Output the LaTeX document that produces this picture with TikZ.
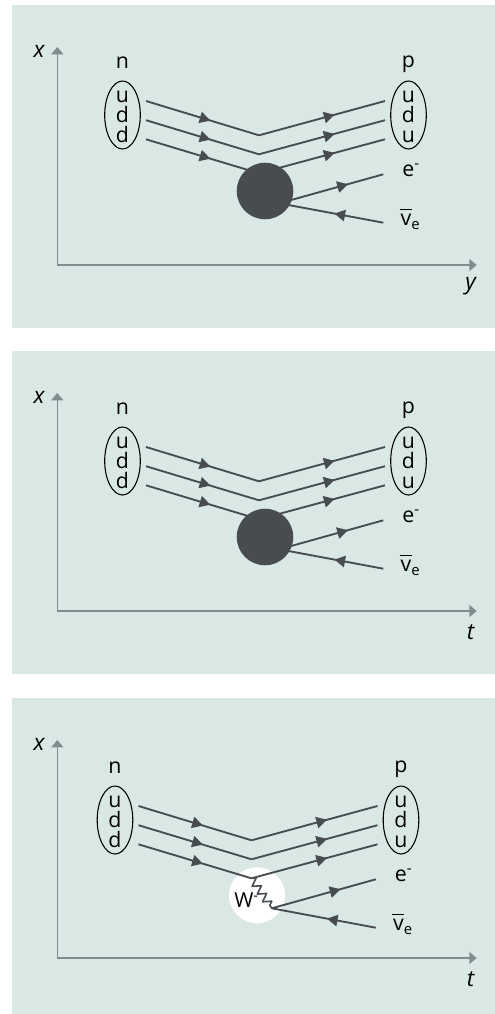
\documentclass[tikz,border=0pt]{standalone}
\usepackage{fontspec}
\setmainfont{Open Sans}
\usetikzlibrary{positioning,arrows.meta,shapes.geometric,decorations.markings,decorations.pathmorphing}
\definecolor{PanelMint}{HTML}{D9E8E4}
\definecolor{CoreSlate}{HTML}{474C50}
\definecolor{AxisGrey}{HTML}{808C8F}

\begin{document}
\begin{tikzpicture}[x=.75pt,y=-.75pt,every node/.style={font=\fontsize{16}{15}\selectfont,inner sep=0pt},
  panelbox/.style={fill=PanelMint},
  axisline/.style={{Triangle[length=5.5pt,width=9pt]}-{Triangle[length=5.5pt,width=9pt]},line width=1.1pt,AxisGrey},
  hadron/.style={draw,ellipse,inner sep=-3pt,line width=.8pt,minimum width=26.7pt,minimum height=51pt,align=center},
  quark/.style={line width=1.4pt,CoreSlate,postaction={decorate},decoration={markings,mark=at position #1 with {\arrow{Triangle[length=8pt,width=8.5pt]}}}},
  darkcore/.style={circle,fill=CoreSlate,minimum size=42.4pt},
  whitecore/.style={circle,fill=white,minimum size=42pt},
  axislabel/.style={font=\fontsize{17}{15}\selectfont\itshape}]
  \useasboundingbox (0,0) rectangle (495,1014);
  \fill[panelbox] (12,5) rectangle (495,328);
  \fill[panelbox] (12,351) rectangle (495,674);
  \fill[panelbox] (12,698) rectangle (495,1014);
  \node[whitecore] (corec) at (257,895.3) {};
  \foreach \n/\top/\dx/\dy/\lab in {a/0/0/0/y,b/346/0/0/t,c/693/-7.5/12/t}{
    \begin{scope}[shift={(0,\top)}]
      \coordinate (origin\n) at (57.3,265);
      \coordinate (xtop\n) at (57.3,47);
      \coordinate (xend\n) at (476.7,265);
      \draw[axisline] (xtop\n) -- (origin\n) -- (xend\n);
      \node[axislabel] (xlabel\n) at (39,51) {x};
      \node[axislabel] (hlabel\n) at (470.7,286) {\lab};
    \end{scope}
    \begin{scope}[shift={(\dx,\top+\dy)}]
      \node[hadron] (neutron\n) at (122.5,115) {\rule{0pt}{11.6pt}u\\d\\d};
      \node[hadron] (proton\n) at (408.5,115) {\rule{0pt}{11.6pt}u\\d\\u};
      \node[above=8.8pt of neutron\n] (nlabel\n) {n};
      \node[above=5.8pt of proton\n] (plabel\n) {p};
      \foreach \q/\yin/\yv in {1/101/135.3,2/120.2/154.3,3/139.3/173.3}{
        \coordinate (in\q\n) at (146,\yin);
        \coordinate (turn\q\n) at (259,\yv);
        \coordinate (out\q\n) at (385,\yin);
        \draw[quark=.57] (in\q\n) -- (turn\q\n);
        \draw[quark=.6] (turn\q\n) -- (out\q\n);
      }
      \coordinate (decay\n) at (279.3,203.3);
      \coordinate (eend\n) at (383.3,174.3);
      \coordinate (nuend\n) at (383.3,222.7);
      \draw[quark=.66] (decay\n) -- (eend\n);
      \draw[quark=.47] (nuend\n) -- (decay\n);
      \node (elabel\n) at (411,170.4) {e\textsuperscript{-}};
      \node (nulabel\n) at (410.5,219.3) {\rlap{\kern-.5pt\rule[11.6pt]{9pt}{.8pt}}v\textsubscript{e}};
    \end{scope}
  }
  \node[darkcore] (corea) at (265,191) {};
  \node[darkcore] (coreb) at (265,537) {};
  \draw[line width=1.2pt,CoreSlate,line join=round,decorate,decoration={zigzag,amplitude=3pt,segment length=7pt}] (turn3c) -- (decayc);
  \node[font=\fontsize{15.5}{15}\selectfont] (wlabel) at (246.5,900) {W\textsuperscript{-}};
\end{tikzpicture}
\end{document}
